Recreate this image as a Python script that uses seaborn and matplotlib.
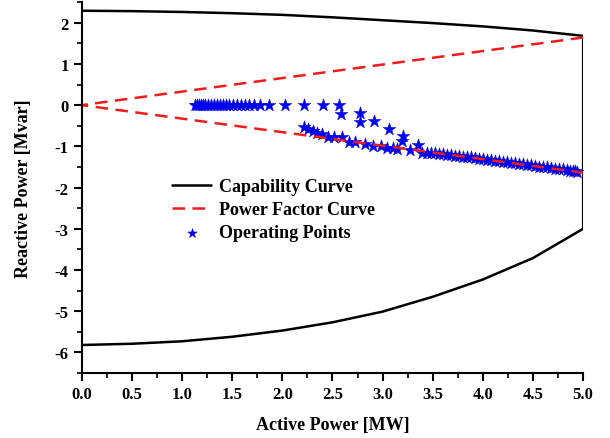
import matplotlib
matplotlib.use("Agg")
import matplotlib.pyplot as plt
import seaborn as sns
import pandas as pd

# --- capability curve (upper edge 0->5, then lower edge 5->0) ---
cap_p = [0.0, 0.5, 1.0, 1.5, 2.0, 2.5, 3.0, 3.5, 4.0, 4.5, 5.0,
         5.0, 4.5, 4.0, 3.5, 3.0, 2.5, 2.0, 1.5, 1.0, 0.5, 0.0]
cap_q = [2.29, 2.28, 2.26, 2.23, 2.19, 2.13, 2.06, 1.99, 1.91, 1.81, 1.68,
         -3.00, -3.71, -4.23, -4.65, -5.01, -5.27, -5.47, -5.62, -5.73, -5.79, -5.82]

# --- power factor limits (pf ~ 0.95) ---
pf_p = [5.0, 0.0, 5.0]
pf_q = [1.64, 0.0, -1.64]

# --- operating points ---
op_p = [1.13, 1.15, 1.17, 1.19, 1.21, 1.23, 1.26, 1.29, 1.32, 1.35, 1.38, 1.41,
        1.44, 1.47, 1.51, 1.55, 1.59, 1.63, 1.67, 1.72, 1.78, 1.87, 2.03, 2.22,
        2.41, 2.57,
        2.59, 2.77, 2.77, 2.91, 3.06, 3.20, 3.19, 3.35,
        2.22, 2.26, 2.31, 2.35, 2.40, 2.46, 2.52, 2.60, 2.67, 2.72, 2.82, 2.90,
        2.98, 3.04, 3.10, 3.14, 3.27, 3.39,
        3.44, 3.48, 3.52, 3.56, 3.60, 3.64, 3.68, 3.72, 3.76, 3.80, 3.84, 3.88,
        3.92, 3.96, 4.00, 4.04, 4.08, 4.12, 4.16, 4.20, 4.24, 4.28, 4.32, 4.36,
        4.40, 4.44, 4.48, 4.52, 4.56, 4.60, 4.64, 4.68, 4.72, 4.76, 4.80, 4.84,
        4.87, 4.90, 4.92, 4.94]
op_q = [0.0, 0.0, 0.0, 0.0, 0.0, 0.0, 0.0, 0.0, 0.0, 0.0, 0.0, 0.0,
        0.0, 0.0, 0.0, 0.0, 0.0, 0.0, 0.0, 0.0, 0.0, 0.0, 0.0, 0.0,
        0.0, 0.0,
        -0.22, -0.20, -0.42, -0.39, -0.59, -0.75, -0.87, -0.96,
        -0.54, -0.58, -0.63, -0.67, -0.69, -0.78, -0.77, -0.78, -0.90, -0.90, -0.95, -0.98,
        -1.00, -1.03, -1.04, -1.06, -1.10, -1.15,
        -1.15, -1.16, -1.17, -1.18, -1.19, -1.21, -1.21, -1.23, -1.24, -1.25, -1.26, -1.27,
        -1.29, -1.30, -1.31, -1.33, -1.34, -1.35, -1.36, -1.38, -1.39, -1.40, -1.41, -1.43,
        -1.44, -1.45, -1.46, -1.48, -1.49, -1.50, -1.51, -1.53, -1.54, -1.55, -1.56, -1.58,
        -1.59, -1.60, -1.61, -1.63]

x_ticks = [0.0, 0.5, 1.0, 1.5, 2.0, 2.5, 3.0, 3.5, 4.0, 4.5, 5.0]
x_labels = ['0.0', '0.5', '1.0', '1.5', '2.0', '2.5', '3.0', '3.5', '4.0', '4.5', '5.0']
y_ticks = [-6, -5, -4, -3, -2, -1, 0, 1, 2]
y_labels = ['-6', '-5', '-4', '-3', '-2', '-1', '0', '1', '2']

sns.set_style("ticks")
plt.rcParams['font.family'] = ['Liberation Serif', 'DejaVu Serif']
plt.rcParams['text.color'] = 'black'
plt.rcParams['axes.labelcolor'] = 'black'
plt.rcParams['axes.edgecolor'] = 'black'
plt.rcParams['axes.linewidth'] = 1.5
plt.rcParams['xtick.major.width'] = 1.5
plt.rcParams['ytick.major.width'] = 1.5
plt.rcParams['xtick.minor.width'] = 1.2
plt.rcParams['ytick.minor.width'] = 1.2
plt.rcParams['xtick.color'] = 'black'
plt.rcParams['ytick.color'] = 'black'

bold = dict(family='Liberation Serif', weight='bold')

fig = plt.figure(figsize=(6.1, 4.39), dpi=100)
ax = fig.add_axes([0.134, 0.148, 0.822, 0.845])

cap_df = pd.DataFrame({'P': cap_p, 'Q': cap_q})
pf_df = pd.DataFrame({'P': pf_p, 'Q': pf_q})
op_df = pd.DataFrame({'P': op_p, 'Q': op_q})

sns.lineplot(data=cap_df, x='P', y='Q', sort=False, color='black', linewidth=1.8,
             label='Capability Curve', ax=ax, estimator=None)
sns.lineplot(data=pf_df, x='P', y='Q', sort=False, color='#ee1c1c', linewidth=1.8,
             label='Power Factor Curve', ax=ax, estimator=None)
ax.lines[-1].set_dashes((5, 3))
sns.scatterplot(data=op_df, x='P', y='Q', marker='*', s=95, color='#0000ee',
                edgecolor='#0000ee', linewidth=0.3, label='Operating Points', ax=ax)

ax.set_xlim(0, 5)
ax.set_ylim(-6.5, 2.5)
ax.set_xticks(x_ticks)
ax.set_xticklabels(x_labels, fontsize=12, color='black', **bold)
ax.set_xticks([0.25 + 0.5 * i for i in range(10)], minor=True)
ax.set_yticks(y_ticks)
ax.set_yticklabels(y_labels, fontsize=12, color='black', **bold)
ax.set_yticks([-6.5 + 0.5 * i for i in range(19)], minor=True)
ax.tick_params(axis='both', which='major', direction='out', length=6)
ax.tick_params(axis='both', which='minor', direction='out', length=3.5)

sns.despine(ax=ax)
ax.set_xlabel('Active Power [MW]', fontsize=13, labelpad=10, color='black', **bold)
ax.set_ylabel('Reactive Power [Mvar]', fontsize=13, labelpad=16, color='black', **bold)

leg = ax.legend(loc='upper left', bbox_to_anchor=(0.147, 0.57), frameon=False,
                prop=dict(size=13, **bold), handlelength=2.2, markerscale=0.75,
                labelspacing=0.35, handletextpad=0.4)
for t in leg.get_texts():
    t.set_color('black')

fig.savefig('out.png', dpi=100)
